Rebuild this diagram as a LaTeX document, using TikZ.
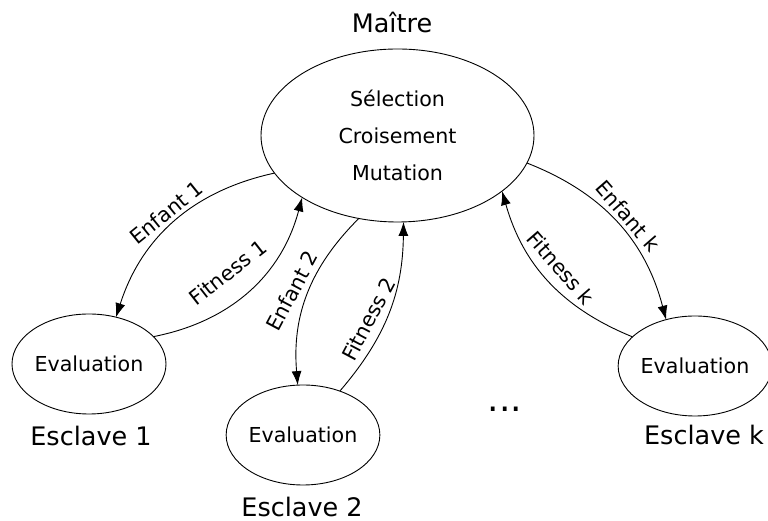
\documentclass[tikz,border=0pt]{standalone}
\usepackage{fontspec}
\setmainfont{DejaVu Sans}
\usetikzlibrary{shapes.geometric,arrows.meta}
\begin{document}
\begin{tikzpicture}[x=1pt,y=1pt,
  every node/.style={inner sep=0pt, outer sep=0pt},
  bubble/.style={draw, ellipse, line width=0.9pt, font=\fontsize{20.6}{37}\selectfont, align=center},
  caption/.style={font=\fontsize{25.5}{30}\selectfont, anchor=base},
  lbl/.style={font=\fontsize{20.6}{24}\selectfont},
  link/.style={line width=0.9pt, -{Latex[length=14pt,width=10pt]}},
]
\useasboundingbox (0,0) rectangle (768,521);
\node[bubble, minimum width=273pt, minimum height=173pt] (m) at (397.5,385.5) {Sélection\\Croisement\\Mutation};
\node[bubble, minimum width=154pt, minimum height=100pt] (s1) at (89,157) {Evaluation};
\node[bubble, minimum width=152pt, minimum height=100pt] (s2) at (303,86) {Evaluation};
\node[bubble, minimum width=145pt, minimum height=100pt] (sk) at (695,155) {Evaluation};

\draw[link] (m.197.6) to[bend right=30] (s1.60.3);
\draw[link] (s1.23.6) to[bend right=32] (m.213.6);
\draw[link] (m.245.8) to[bend right=25] (s2.96);
\draw[link] (s2.50.6) to[bend right=20] (m.274.2);
\draw[link] (m.348.1) to[bend left=27] (sk.122);
\draw[link] (sk.155.7) to[bend left=26] (m.332.5);

\node[lbl, rotate=39] (le1) at (166.5,308.5) {Enfant 1};
\node[lbl, rotate=38] (lf1) at (228,249) {Fitness 1};
\node[lbl, rotate=62] (le2) at (292,230) {Enfant 2};
\node[lbl, rotate=62] (lf2) at (369,202) {Fitness 2};
\node[lbl, rotate=-49] (lek) at (628,305) {Enfant k};
\node[lbl, rotate=-49] (lfk) at (561,253) {Fitness k};

\node[caption] (cm) at (392,488) {Maître};
\node[caption] (c1) at (91,75) {Esclave 1};
\node[caption] (c2) at (302,4) {Esclave 2};
\node[caption] (ck) at (704,76) {Esclave k};
\node[font=\fontsize{36}{40}\selectfont, anchor=base] (dots) at (505,109) {...};
\end{tikzpicture}
\end{document}
